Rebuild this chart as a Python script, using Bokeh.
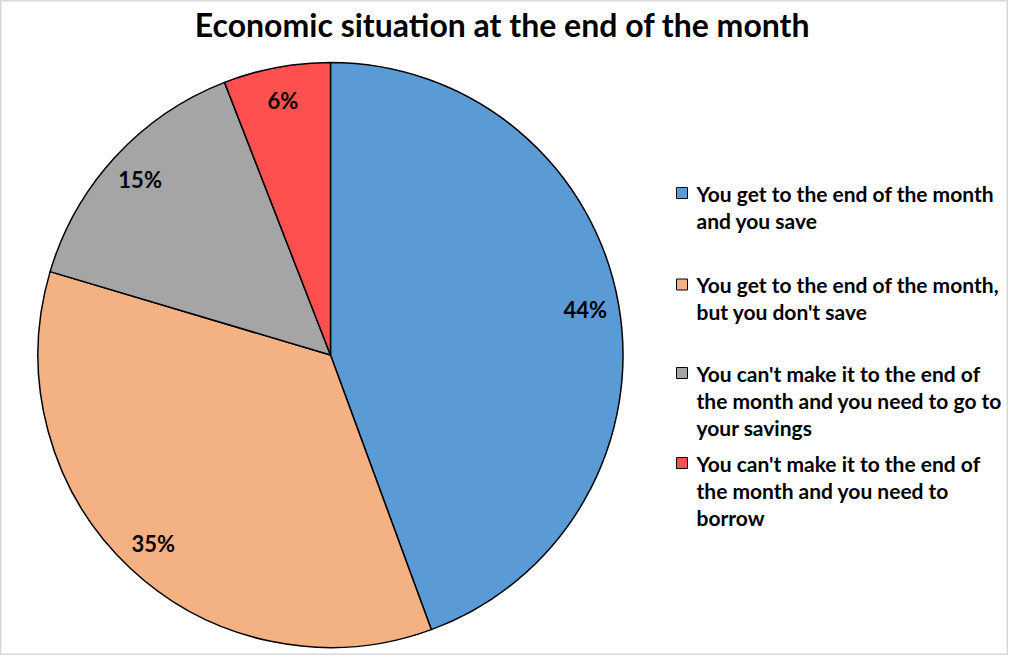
import math
from bokeh.plotting import figure
from bokeh.models import Range1d, Label, ColumnDataSource
from bokeh.core.properties import value
from bokeh.embed import file_html
from bokeh.resources import INLINE

# ---- data ----
categories = [
    "You get to the end of the month\nand you save",
    "You get to the end of the month,\nbut you don't save",
    "You can't make it to the end of\nthe month and you need to go to\nyour savings",
    "You can't make it to the end of\nthe month and you need to\nborrow",
]
shares = [44.4, 35.2, 14.5, 5.9]
pct_labels = ["44%", "35%", "15%", "6%"]
colors = ["#5B9BD5", "#F4B183", "#A5A5A5", "#FF5050"]
title_text = "Economic situation at the end of the month"

# ---- layout (reference pixel space, y flipped) ----
W, H = 1008, 655
FONT = "Lato"

def Y(ref_y):
    return 671 - ref_y

p = figure(width=W, height=H, output_backend="svg", toolbar_location=None,
           x_range=Range1d(8, 1016), y_range=Range1d(8, 663),
           x_axis_location=None, y_axis_location=None, min_border=0,
           match_aspect=False)
p.grid.visible = False
p.outline_line_color = "#d9d9d9"
p.outline_line_width = 2
p.background_fill_color = "white"
p.border_fill_color = "white"

cx, cy, R = 338, Y(362.5), 292.5
total = sum(shares)
starts, ends, mids = [], [], []
cum = 0.0
for s in shares:
    a0 = cum / total
    cum += s
    a1 = cum / total
    # clockwise from 12 o'clock
    starts.append(math.pi / 2 - 2 * math.pi * a1)
    ends.append(math.pi / 2 - 2 * math.pi * a0)
    mids.append(math.pi / 2 - 2 * math.pi * (a0 + a1) / 2)

src = ColumnDataSource(dict(start=starts, end=ends, color=colors))
p.wedge(x=cx, y=cy, radius=R, start_angle="start", end_angle="end",
        fill_color="color", line_color="black", line_width=1.5, source=src)

lr = 0.885 * R
lsrc = ColumnDataSource(dict(
    x=[cx + lr * math.cos(m) for m in mids],
    y=[cy + lr * math.sin(m) for m in mids],
    t=pct_labels))
p.text(x="x", y="y", text="t", source=lsrc, text_align="center",
       text_baseline="middle", text_font=value(FONT), text_font_style="bold",
       text_font_size="22px", text_color="black")

# legend
first_centers = [200.5, 292, 380.5, 470.5]
line_gap = 27
sq_x, txt_x = 689.5, 704
for cat, col, c in zip(categories, colors, first_centers):
    p.rect(x=sq_x, y=Y(c), width=11, height=11, fill_color=col,
           line_color="black", line_width=1)
    lines = cat.split("\n")
    p.text(x=[txt_x] * len(lines), y=[Y(c + line_gap * k) for k in range(len(lines))],
           text=lines, text_align="left", text_baseline="middle",
           text_font=value(FONT), text_font_style="bold", text_font_size="21px",
           text_color="black")

p.add_layout(Label(x=510, y=Y(32), text=title_text, text_align="center",
                   text_baseline="middle", text_font=FONT,
                   text_font_style="bold", text_font_size="32px",
                   text_color="black"))

open("out.html", "w").write(file_html(p, INLINE))
